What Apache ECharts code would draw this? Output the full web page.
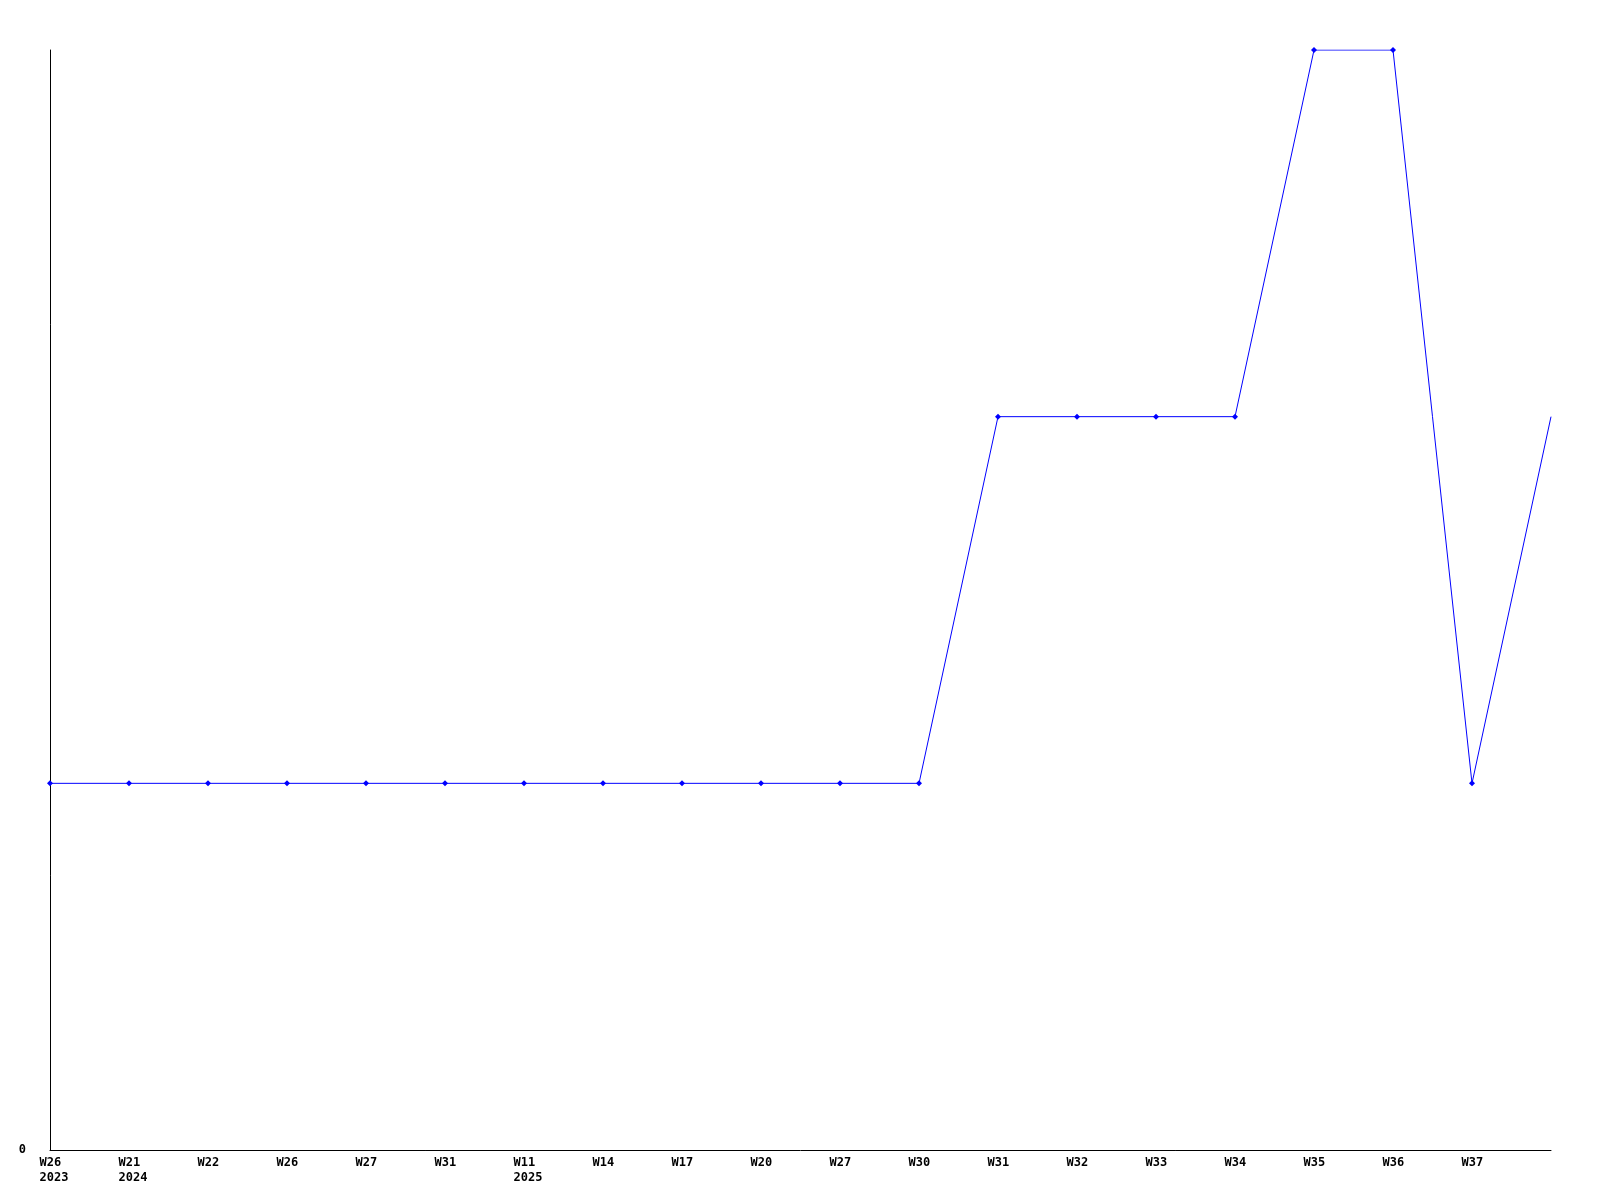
<!DOCTYPE html>
<html>
<head>
<meta charset="utf-8">
<script src="https://cdn.jsdelivr.net/npm/echarts@6/dist/echarts.min.js"></script>
<style>html,body{margin:0;padding:0;background:#fff}#c{width:1600px;height:1200px}</style>
</head>
<body>
<div id="c"></div>
<script>
const weeks = ['W26','W21','W22','W26','W27','W31','W11','W14','W17','W20','W27','W30','W31','W32','W33','W34','W35','W36','W37',''];
const years = ['2023','2024','','','','','2025','','','','','','','','','','','','',''];
const values = [1,1,1,1,1,1,1,1,1,1,1,1,2,2,2,2,3,3,1,2];
const yTicks = [0];

const categories = weeks.map((w, i) => years[i] ? w + '\n' + years[i] : w);
const chart = echarts.init(document.getElementById('c'));
chart.setOption({
  animation: false,
  backgroundColor: '#ffffff',
  grid: {left: 50, top: 50, right: 49, bottom: 50, containLabel: false},
  xAxis: {
    type: 'category',
    data: categories,
    boundaryGap: false,
    axisLine: {lineStyle: {color: '#000', width: 1}},
    axisTick: {show: false},
    splitLine: {show: false},
    axisLabel: {
      interval: 0,
      margin: 5,
      color: '#000',
      fontFamily: 'DejaVu Sans Mono',
      fontWeight: 'bold',
      fontSize: 12,
      lineHeight: 15,
      formatter: function (v) {
        return v.split('\n').map(s => '{a|' + s + '}').join('\n');
      },
      rich: {a: {width: 21, align: 'left', fontFamily: 'DejaVu Sans Mono', fontWeight: 'bold', fontSize: 12, lineHeight: 15, color: '#000'}}
    }
  },
  yAxis: {
    type: 'value',
    min: 0,
    max: 3,
    interval: 1,
    axisLine: {show: true, lineStyle: {color: '#000', width: 1}},
    axisTick: {show: false},
    splitLine: {show: false},
    axisLabel: {
      margin: 24,
      color: '#000',
      fontFamily: 'DejaVu Sans Mono',
      fontWeight: 'bold',
      fontSize: 12,
      formatter: function (v) { return yTicks.indexOf(v) >= 0 ? String(v) : ''; }
    }
  },
  series: [{
    type: 'line',
    data: values.map((v, i) => i === values.length - 1 ? {value: v, symbol: 'none'} : v),
    symbol: 'diamond',
    symbolSize: 6,
    showSymbol: true,
    lineStyle: {color: '#0000ff', width: 1},
    itemStyle: {color: '#0000ff'},
    emphasis: {disabled: true}
  }]
});
</script>
</body>
</html>
